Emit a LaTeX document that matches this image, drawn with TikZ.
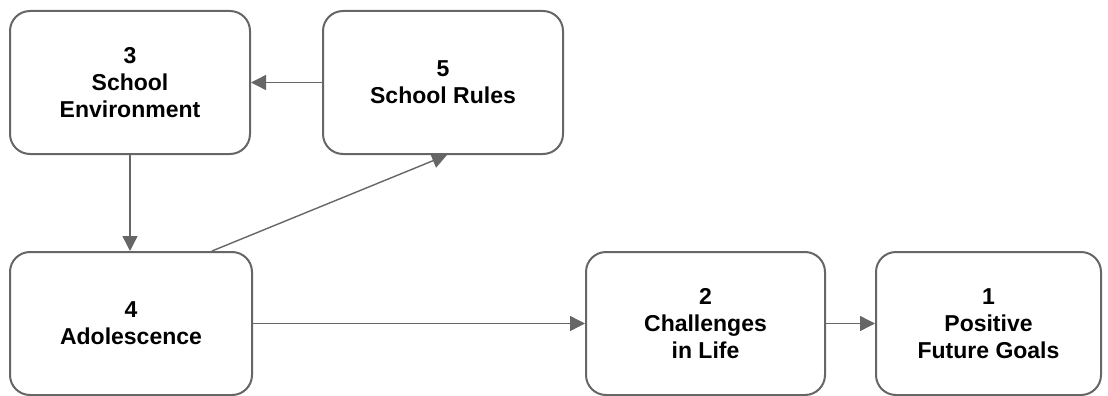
\documentclass[tikz,border=0pt]{standalone}
\usepackage{fontspec}
\setmainfont{Liberation Sans}
\usetikzlibrary{arrows.meta}
\definecolor{edgegray}{HTML}{666666}
\tikzset{
  box/.style={draw=edgegray, line width=2pt, rounded corners=20pt, fill=white,
    align=center, font=\fontsize{23pt}{27pt}\selectfont\bfseries,
    minimum width=#1, minimum height=143pt, inner sep=0pt},
  box/.default=240pt,
  arr/.style={draw=edgegray, line width=1.4pt,
    -{Triangle[length=15pt,width=15pt,fill=edgegray]}}
}
\begin{document}
\begin{tikzpicture}[x=1pt,y=-1pt]
  \useasboundingbox (0,0) rectangle (1108,396);
  % top row
  \node[box=240pt] (b3) at (130,82.5) {3\\School\\Environment};
  \node[box=240pt] (b5) at (443,82.5) {5\\School Rules};
  % bottom row
  \node[box=242pt] (b4) at (131,323.5) {4\\Adolescence};
  \node[box=239pt] (b2) at (705.5,323.5) {2\\Challenges\\in Life};
  \node[box=225pt] (b1) at (988.5,323.5) {1\\Positive\\Future Goals};
  % connectors
  \draw[arr] (b5.west) -- (b3.east);
  \draw[arr] (b3.south) -- (b3.south |- b4.north);
  \draw[arr] ([xshift=81pt]b4.north) -- ([xshift=4pt]b5.south);
  \draw[arr] (b4.east) -- (b2.west);
  \draw[arr] (b2.east) -- (b1.west);
\end{tikzpicture}
\end{document}
